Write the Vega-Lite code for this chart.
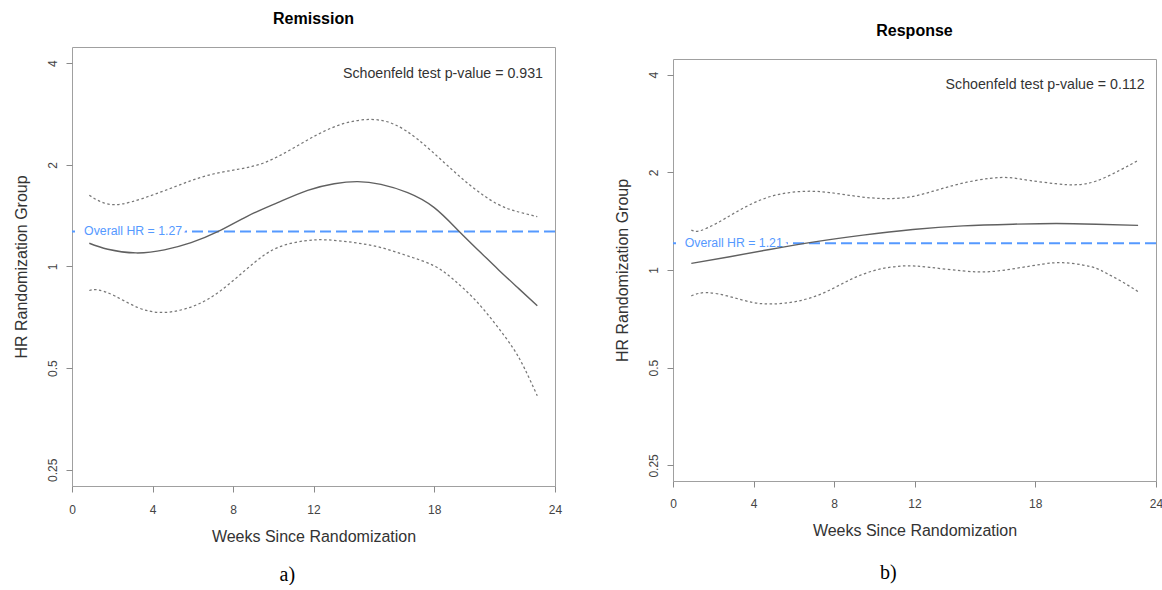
{
  "$schema": "https://vega.github.io/schema/vega-lite/v6.json",
  "autosize": {"type": "pad"},
  "padding": {"left": 12, "top": 10, "right": 0, "bottom": 0},
  "background": "white",
  "spacing": 50,
  "config": {
    "font": "Liberation Sans",
    "view": {"stroke": "#a0a0a0", "strokeWidth": 1},
    "axis": {"grid": false, "domain": false, "tickColor": "#8a8a8a", "tickSize": 6, "labelFont": "Liberation Sans", "labelFontSize": 12, "labelColor": "#444444", "titleFont": "Liberation Sans", "titleFontSize": 16, "titleFontWeight": "normal", "titleColor": "#333333", "labelOverlap": false},
    "axisX": {"labelPadding": 12, "titlePadding": 13, "labelFlush": false},
    "axisY": {"labelAngle": 270, "labelAlign": "center", "labelBaseline": "middle", "labelPadding": 14, "titlePadding": 17},
    "title": {"font": "Liberation Sans"}
  },
  "datasets": {
    "remission": [
      {"curve": "estimate", "week": 0.86, "hr": 1.172},
      {"curve": "estimate", "week": 1.78, "hr": 1.125},
      {"curve": "estimate", "week": 3.18, "hr": 1.097},
      {"curve": "estimate", "week": 4.59, "hr": 1.12},
      {"curve": "estimate", "week": 5.92, "hr": 1.177},
      {"curve": "estimate", "week": 7.24, "hr": 1.268},
      {"curve": "estimate", "week": 8.73, "hr": 1.411},
      {"curve": "estimate", "week": 10.22, "hr": 1.546},
      {"curve": "estimate", "week": 11.71, "hr": 1.681},
      {"curve": "estimate", "week": 13.03, "hr": 1.759},
      {"curve": "estimate", "week": 14.19, "hr": 1.784},
      {"curve": "estimate", "week": 15.35, "hr": 1.751},
      {"curve": "estimate", "week": 16.68, "hr": 1.655},
      {"curve": "estimate", "week": 18.0, "hr": 1.494},
      {"curve": "estimate", "week": 19.24, "hr": 1.27},
      {"curve": "estimate", "week": 20.32, "hr": 1.098},
      {"curve": "estimate", "week": 21.2, "hr": 0.977},
      {"curve": "estimate", "week": 22.2, "hr": 0.86},
      {"curve": "estimate", "week": 23.12, "hr": 0.765},
      {"curve": "upper", "week": 0.86, "hr": 1.625},
      {"curve": "upper", "week": 1.45, "hr": 1.553},
      {"curve": "upper", "week": 2.11, "hr": 1.525},
      {"curve": "upper", "week": 2.94, "hr": 1.553},
      {"curve": "upper", "week": 4.1, "hr": 1.636},
      {"curve": "upper", "week": 5.42, "hr": 1.751},
      {"curve": "upper", "week": 6.75, "hr": 1.862},
      {"curve": "upper", "week": 8.23, "hr": 1.94},
      {"curve": "upper", "week": 9.56, "hr": 2.03},
      {"curve": "upper", "week": 10.88, "hr": 2.222},
      {"curve": "upper", "week": 12.21, "hr": 2.461},
      {"curve": "upper", "week": 13.53, "hr": 2.653},
      {"curve": "upper", "week": 14.86, "hr": 2.726},
      {"curve": "upper", "week": 16.02, "hr": 2.635},
      {"curve": "upper", "week": 17.18, "hr": 2.38},
      {"curve": "upper", "week": 18.5, "hr": 2.03},
      {"curve": "upper", "week": 19.83, "hr": 1.731},
      {"curve": "upper", "week": 21.15, "hr": 1.53},
      {"curve": "upper", "week": 22.2, "hr": 1.45},
      {"curve": "upper", "week": 23.12, "hr": 1.405},
      {"curve": "lower", "week": 0.86, "hr": 0.849},
      {"curve": "lower", "week": 1.28, "hr": 0.853},
      {"curve": "lower", "week": 2.11, "hr": 0.819},
      {"curve": "lower", "week": 3.27, "hr": 0.756},
      {"curve": "lower", "week": 4.43, "hr": 0.731},
      {"curve": "lower", "week": 5.59, "hr": 0.748},
      {"curve": "lower", "week": 6.75, "hr": 0.8},
      {"curve": "lower", "week": 7.9, "hr": 0.897},
      {"curve": "lower", "week": 9.06, "hr": 1.027},
      {"curve": "lower", "week": 10.22, "hr": 1.138},
      {"curve": "lower", "week": 11.55, "hr": 1.191},
      {"curve": "lower", "week": 12.7, "hr": 1.199},
      {"curve": "lower", "week": 14.03, "hr": 1.177},
      {"curve": "lower", "week": 15.35, "hr": 1.138},
      {"curve": "lower", "week": 16.68, "hr": 1.075},
      {"curve": "lower", "week": 18.0, "hr": 1.004},
      {"curve": "lower", "week": 19.0, "hr": 0.91},
      {"curve": "lower", "week": 20.0, "hr": 0.8},
      {"curve": "lower", "week": 21.0, "hr": 0.68},
      {"curve": "lower", "week": 21.9, "hr": 0.575},
      {"curve": "lower", "week": 22.5, "hr": 0.497},
      {"curve": "lower", "week": 23.12, "hr": 0.414}
    ],
    "response": [
      {"curve": "estimate", "week": 0.91, "hr": 1.048},
      {"curve": "estimate", "week": 2.82, "hr": 1.099},
      {"curve": "estimate", "week": 4.8, "hr": 1.157},
      {"curve": "estimate", "week": 6.95, "hr": 1.219},
      {"curve": "estimate", "week": 9.44, "hr": 1.281},
      {"curve": "estimate", "week": 11.92, "hr": 1.333},
      {"curve": "estimate", "week": 14.41, "hr": 1.368},
      {"curve": "estimate", "week": 16.89, "hr": 1.384},
      {"curve": "estimate", "week": 19.04, "hr": 1.391},
      {"curve": "estimate", "week": 21.03, "hr": 1.384},
      {"curve": "estimate", "week": 23.11, "hr": 1.372},
      {"curve": "upper", "week": 0.91, "hr": 1.327},
      {"curve": "upper", "week": 1.32, "hr": 1.32},
      {"curve": "upper", "week": 2.15, "hr": 1.391},
      {"curve": "upper", "week": 3.15, "hr": 1.51},
      {"curve": "upper", "week": 4.31, "hr": 1.64},
      {"curve": "upper", "week": 5.46, "hr": 1.719},
      {"curve": "upper", "week": 6.62, "hr": 1.748},
      {"curve": "upper", "week": 7.78, "hr": 1.732},
      {"curve": "upper", "week": 9.11, "hr": 1.687},
      {"curve": "upper", "week": 10.43, "hr": 1.66},
      {"curve": "upper", "week": 11.76, "hr": 1.679},
      {"curve": "upper", "week": 13.08, "hr": 1.76},
      {"curve": "upper", "week": 14.41, "hr": 1.853},
      {"curve": "upper", "week": 15.73, "hr": 1.916},
      {"curve": "upper", "week": 16.72, "hr": 1.925},
      {"curve": "upper", "week": 17.72, "hr": 1.888},
      {"curve": "upper", "week": 19.04, "hr": 1.844},
      {"curve": "upper", "week": 20.04, "hr": 1.831},
      {"curve": "upper", "week": 21.03, "hr": 1.88},
      {"curve": "upper", "week": 22.19, "hr": 2.027},
      {"curve": "upper", "week": 23.11, "hr": 2.175},
      {"curve": "lower", "week": 0.91, "hr": 0.832},
      {"curve": "lower", "week": 1.66, "hr": 0.852},
      {"curve": "lower", "week": 2.82, "hr": 0.828},
      {"curve": "lower", "week": 3.97, "hr": 0.794},
      {"curve": "lower", "week": 4.97, "hr": 0.786},
      {"curve": "lower", "week": 6.13, "hr": 0.8},
      {"curve": "lower", "week": 7.45, "hr": 0.848},
      {"curve": "lower", "week": 8.78, "hr": 0.932},
      {"curve": "lower", "week": 10.1, "hr": 1.0},
      {"curve": "lower", "week": 11.43, "hr": 1.029},
      {"curve": "lower", "week": 12.75, "hr": 1.019},
      {"curve": "lower", "week": 14.41, "hr": 0.993},
      {"curve": "lower", "week": 15.73, "hr": 0.988},
      {"curve": "lower", "week": 17.06, "hr": 1.012},
      {"curve": "lower", "week": 18.38, "hr": 1.043},
      {"curve": "lower", "week": 19.37, "hr": 1.053},
      {"curve": "lower", "week": 20.37, "hr": 1.036},
      {"curve": "lower", "week": 21.03, "hr": 1.012},
      {"curve": "lower", "week": 21.54, "hr": 0.977},
      {"curve": "lower", "week": 22.3, "hr": 0.921},
      {"curve": "lower", "week": 23.11, "hr": 0.858}
    ]
  },
  "hconcat": [
    {
      "title": {"text": "a)", "orient": "bottom", "frame": "bounds", "anchor": "middle", "font": "Liberation Serif", "fontSize": 20, "fontWeight": "normal", "color": "#000000", "offset": 20},
      "vconcat": [
        {
          "title": {"text": "Remission", "frame": "group", "anchor": "middle", "fontSize": 16, "fontWeight": "bold", "color": "#000000", "offset": 20},
          "width": 483,
          "height": 439,
          "layer": [
            {
              "data": {"values": [{"overall_hr": 1.27, "hr_label": "Overall HR = 1.27", "test_label": "Schoenfeld test p-value = 0.931"}]},
              "mark": {"type": "rule", "color": "#5599ff", "strokeWidth": 2, "strokeDash": [11, 5]},
              "encoding": {
                "y": {"field": "overall_hr", "type": "quantitative", "title": "HR Randomization Group", "scale": {"type": "log", "domain": [0.2238, 4.468], "nice": false}, "axis": {"values": [0.25, 0.5, 1, 2, 4], "format": "~g"}}
              }
            },
            {
              "data": {"values": [{"overall_hr": 1.27, "hr_label": "Overall HR = 1.27", "test_label": "Schoenfeld test p-value = 0.931"}]},
              "mark": {"type": "text", "align": "left", "baseline": "middle", "fontSize": 12.3, "fill": "white", "stroke": "white", "strokeWidth": 10, "strokeJoin": "round"},
              "encoding": {
                "x": {"datum": 0.6, "type": "quantitative", "title": "Weeks Since Randomization", "scale": {"domain": [0, 24], "nice": false, "zero": false}, "axis": {"values": [0, 4, 8, 12, 18, 24]}},
                "y": {"field": "overall_hr", "type": "quantitative", "title": "HR Randomization Group", "scale": {"type": "log", "domain": [0.2238, 4.468], "nice": false}, "axis": {"values": [0.25, 0.5, 1, 2, 4], "format": "~g"}},
                "text": {"field": "hr_label"}
              }
            },
            {
              "data": {"values": [{"overall_hr": 1.27, "hr_label": "Overall HR = 1.27", "test_label": "Schoenfeld test p-value = 0.931"}]},
              "mark": {"type": "text", "align": "left", "baseline": "middle", "fontSize": 12.3, "color": "#5599ff"},
              "encoding": {
                "x": {"datum": 0.6, "type": "quantitative", "title": "Weeks Since Randomization", "scale": {"domain": [0, 24], "nice": false, "zero": false}, "axis": {"values": [0, 4, 8, 12, 18, 24]}},
                "y": {"field": "overall_hr", "type": "quantitative", "title": "HR Randomization Group", "scale": {"type": "log", "domain": [0.2238, 4.468], "nice": false}, "axis": {"values": [0.25, 0.5, 1, 2, 4], "format": "~g"}},
                "text": {"field": "hr_label"}
              }
            },
            {
              "data": {"values": [{"overall_hr": 1.27, "hr_label": "Overall HR = 1.27", "test_label": "Schoenfeld test p-value = 0.931"}]},
              "mark": {"type": "text", "align": "right", "baseline": "middle", "fontSize": 14.2, "color": "#333333"},
              "encoding": {
                "x": {"datum": 23.4, "type": "quantitative", "title": "Weeks Since Randomization", "scale": {"domain": [0, 24], "nice": false, "zero": false}, "axis": {"values": [0, 4, 8, 12, 18, 24]}},
                "y": {"datum": 3.72, "type": "quantitative", "title": "HR Randomization Group", "scale": {"type": "log", "domain": [0.2238, 4.468], "nice": false}, "axis": {"values": [0.25, 0.5, 1, 2, 4], "format": "~g"}},
                "text": {"field": "test_label"}
              }
            },
            {
              "data": {"name": "remission"},
              "transform": [{"filter": "datum.curve !== 'estimate'"}],
              "mark": {"type": "line", "interpolate": "natural", "color": "#777777", "strokeWidth": 1.25, "strokeDash": [2.5, 2.5]},
              "encoding": {
                "x": {"field": "week", "type": "quantitative", "title": "Weeks Since Randomization", "scale": {"domain": [0, 24], "nice": false, "zero": false}, "axis": {"values": [0, 4, 8, 12, 18, 24]}},
                "y": {"field": "hr", "type": "quantitative", "title": "HR Randomization Group", "scale": {"type": "log", "domain": [0.2238, 4.468], "nice": false}, "axis": {"values": [0.25, 0.5, 1, 2, 4], "format": "~g"}},
                "detail": {"field": "curve"}
              }
            },
            {
              "data": {"name": "remission"},
              "transform": [{"filter": "datum.curve === 'estimate'"}],
              "mark": {"type": "line", "interpolate": "natural", "color": "#606060", "strokeWidth": 1.4},
              "encoding": {
                "x": {"field": "week", "type": "quantitative", "title": "Weeks Since Randomization", "scale": {"domain": [0, 24], "nice": false, "zero": false}, "axis": {"values": [0, 4, 8, 12, 18, 24]}},
                "y": {"field": "hr", "type": "quantitative", "title": "HR Randomization Group", "scale": {"type": "log", "domain": [0.2238, 4.468], "nice": false}, "axis": {"values": [0.25, 0.5, 1, 2, 4], "format": "~g"}}
              }
            }
          ]
        }
      ]
    },
    {
      "title": {"text": "b)", "orient": "bottom", "frame": "bounds", "anchor": "middle", "font": "Liberation Serif", "fontSize": 20, "fontWeight": "normal", "color": "#000000", "offset": 24},
      "spacing": 0,
      "vconcat": [
        {
          "title": {"text": "Response", "frame": "group", "anchor": "middle", "fontSize": 16, "fontWeight": "bold", "color": "#000000", "offset": 8},
          "width": 483,
          "height": 11,
          "view": {"stroke": null},
          "data": {"values": [{"spacer": 0}]},
          "mark": {"type": "point", "opacity": 0},
          "encoding": {}
        },
        {
          "width": 483,
          "height": 422,
          "layer": [
            {
              "data": {"values": [{"overall_hr": 1.21, "hr_label": "Overall HR = 1.21", "test_label": "Schoenfeld test p-value = 0.112"}]},
              "mark": {"type": "rule", "color": "#5599ff", "strokeWidth": 2, "strokeDash": [11, 5]},
              "encoding": {
                "y": {"field": "overall_hr", "type": "quantitative", "title": "HR Randomization Group", "scale": {"type": "log", "domain": [0.2238, 4.468], "nice": false}, "axis": {"values": [0.25, 0.5, 1, 2, 4], "format": "~g"}}
              }
            },
            {
              "data": {"values": [{"overall_hr": 1.21, "hr_label": "Overall HR = 1.21", "test_label": "Schoenfeld test p-value = 0.112"}]},
              "mark": {"type": "text", "align": "left", "baseline": "middle", "fontSize": 12.3, "fill": "white", "stroke": "white", "strokeWidth": 10, "strokeJoin": "round"},
              "encoding": {
                "x": {"datum": 0.58, "type": "quantitative", "title": "Weeks Since Randomization", "scale": {"domain": [0, 24], "nice": false, "zero": false}, "axis": {"values": [0, 4, 8, 12, 18, 24], "labelPadding": 11}},
                "y": {"field": "overall_hr", "type": "quantitative", "title": "HR Randomization Group", "scale": {"type": "log", "domain": [0.2238, 4.468], "nice": false}, "axis": {"values": [0.25, 0.5, 1, 2, 4], "format": "~g"}},
                "text": {"field": "hr_label"}
              }
            },
            {
              "data": {"values": [{"overall_hr": 1.21, "hr_label": "Overall HR = 1.21", "test_label": "Schoenfeld test p-value = 0.112"}]},
              "mark": {"type": "text", "align": "left", "baseline": "middle", "fontSize": 12.3, "color": "#5599ff"},
              "encoding": {
                "x": {"datum": 0.58, "type": "quantitative", "title": "Weeks Since Randomization", "scale": {"domain": [0, 24], "nice": false, "zero": false}, "axis": {"values": [0, 4, 8, 12, 18, 24], "labelPadding": 11}},
                "y": {"field": "overall_hr", "type": "quantitative", "title": "HR Randomization Group", "scale": {"type": "log", "domain": [0.2238, 4.468], "nice": false}, "axis": {"values": [0.25, 0.5, 1, 2, 4], "format": "~g"}},
                "text": {"field": "hr_label"}
              }
            },
            {
              "data": {"values": [{"overall_hr": 1.21, "hr_label": "Overall HR = 1.21", "test_label": "Schoenfeld test p-value = 0.112"}]},
              "mark": {"type": "text", "align": "right", "baseline": "middle", "fontSize": 14.2, "color": "#333333"},
              "encoding": {
                "x": {"datum": 23.43, "type": "quantitative", "title": "Weeks Since Randomization", "scale": {"domain": [0, 24], "nice": false, "zero": false}, "axis": {"values": [0, 4, 8, 12, 18, 24], "labelPadding": 11}},
                "y": {"datum": 3.72, "type": "quantitative", "title": "HR Randomization Group", "scale": {"type": "log", "domain": [0.2238, 4.468], "nice": false}, "axis": {"values": [0.25, 0.5, 1, 2, 4], "format": "~g"}},
                "text": {"field": "test_label"}
              }
            },
            {
              "data": {"name": "response"},
              "transform": [{"filter": "datum.curve !== 'estimate'"}],
              "mark": {"type": "line", "interpolate": "natural", "color": "#777777", "strokeWidth": 1.25, "strokeDash": [2.5, 2.5]},
              "encoding": {
                "x": {"field": "week", "type": "quantitative", "title": "Weeks Since Randomization", "scale": {"domain": [0, 24], "nice": false, "zero": false}, "axis": {"values": [0, 4, 8, 12, 18, 24], "labelPadding": 11}},
                "y": {"field": "hr", "type": "quantitative", "title": "HR Randomization Group", "scale": {"type": "log", "domain": [0.2238, 4.468], "nice": false}, "axis": {"values": [0.25, 0.5, 1, 2, 4], "format": "~g"}},
                "detail": {"field": "curve"}
              }
            },
            {
              "data": {"name": "response"},
              "transform": [{"filter": "datum.curve === 'estimate'"}],
              "mark": {"type": "line", "interpolate": "natural", "color": "#606060", "strokeWidth": 1.4},
              "encoding": {
                "x": {"field": "week", "type": "quantitative", "title": "Weeks Since Randomization", "scale": {"domain": [0, 24], "nice": false, "zero": false}, "axis": {"values": [0, 4, 8, 12, 18, 24], "labelPadding": 11}},
                "y": {"field": "hr", "type": "quantitative", "title": "HR Randomization Group", "scale": {"type": "log", "domain": [0.2238, 4.468], "nice": false}, "axis": {"values": [0.25, 0.5, 1, 2, 4], "format": "~g"}}
              }
            }
          ]
        }
      ]
    }
  ]
}
